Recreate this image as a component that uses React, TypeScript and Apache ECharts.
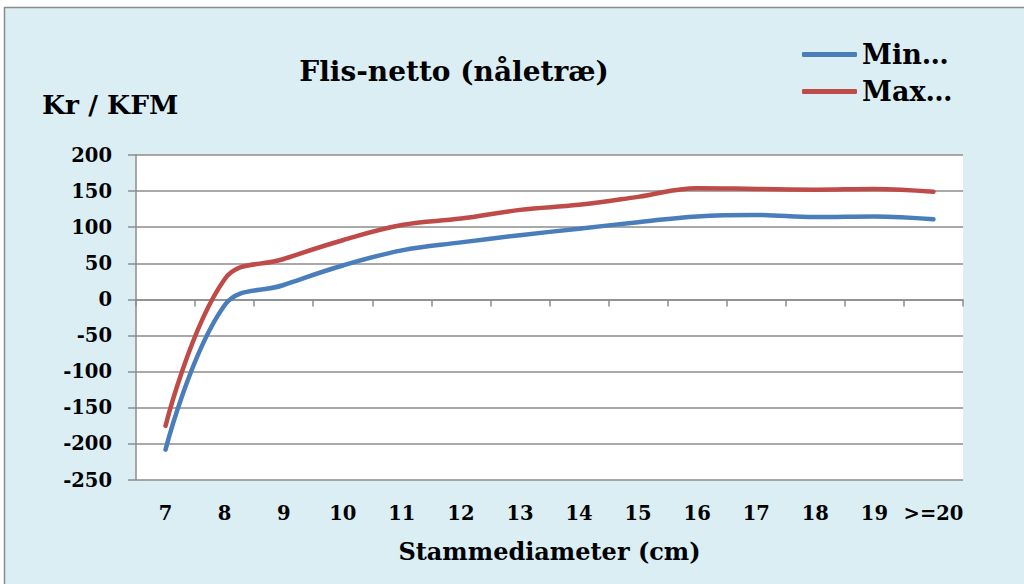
import React, { useEffect, useRef } from "react";
import * as echarts from "echarts";

const categories = ["7", "8", "9", "10", "11", "12", "13", "14", "15", "16", "17", "18", "19", ">=20"];
const minValues = [-208, -8, 20, 47, 68, 79, 89, 98, 107, 115, 117, 114, 115, 111];
const maxValues = [-175, 28, 56, 82, 103, 112, 124, 131, 142, 154, 153, 152, 153, 149];
const yTicks = { min: -250, max: 200, interval: 50 };

const FONT = "DejaVu Serif";

export default function App() {
  const ref = useRef<HTMLDivElement>(null);
  useEffect(() => {
    if (!ref.current) return;
    const chart = echarts.init(ref.current, undefined, { renderer: "svg" });
    chart.setOption({
      animation: false,
      backgroundColor: "#ffffff",
      textStyle: { fontFamily: FONT },
      title: {
        text: "Flis-netto (nåletræ)",
        left: 454,
        top: 57,
        padding: 0,
        textAlign: "center",
        textStyle: { fontFamily: FONT, fontWeight: "bold", fontSize: 28, color: "#000" },
      },
      graphic: [
        {
          type: "rect",
          z: -10,
          silent: true,
          shape: { x: 4.5, y: 7.5, width: 1040, height: 600 },
          style: { fill: "#DBEEF3", stroke: "#8c8c8c", lineWidth: 1.5 },
        },
        {
          type: "text",
          left: 42,
          top: 91,
          style: { text: "Kr / KFM", fontFamily: FONT, fontWeight: "bold", fontSize: 26.5, fill: "#000" },
        },
      ],
      legend: {
        orient: "vertical",
        left: 802,
        top: 41,
        padding: 0,
        itemWidth: 55,
        itemHeight: 5,
        itemGap: 10,
        itemTextGap: 5,
        icon: "roundRect",
        textStyle: { fontFamily: FONT, fontWeight: "bold", fontSize: 27, color: "#000", lineHeight: 27 },
        data: ["Min…", "Max…"],
      },
      grid: {
        left: 136,
        top: 155,
        width: 827,
        height: 325,
        show: true,
        backgroundColor: "#ffffff",
        borderWidth: 0,
        containLabel: false,
      },
      xAxis: [
        {
          type: "category",
          data: categories,
          boundaryGap: true,
          position: "bottom",
          axisLine: { show: false, onZero: false },
          axisTick: { show: false },
          splitLine: { show: false },
          axisLabel: { fontFamily: FONT, fontWeight: "bold", fontSize: 19.5, color: "#000", margin: 23, interval: 0 },
          name: "Stammediameter (cm)",
          nameLocation: "middle",
          nameGap: 59,
          nameTextStyle: { fontFamily: FONT, fontWeight: "bold", fontSize: 24, color: "#000", verticalAlign: "top" },
        },
        {
          type: "category",
          data: categories,
          boundaryGap: true,
          position: "bottom",
          axisLine: { show: true, onZero: true, lineStyle: { color: "#8c8c8c", width: 1.5 } },
          axisTick: { show: true, length: 7, interval: 0, lineStyle: { color: "#8c8c8c", width: 1.5 } },
          axisLabel: { show: false },
          splitLine: { show: false },
        },
      ],
      yAxis: {
        type: "value",
        min: yTicks.min,
        max: yTicks.max,
        interval: yTicks.interval,
        axisLine: { show: true, lineStyle: { color: "#8c8c8c", width: 1.5 } },
        axisTick: { show: true, length: 8, lineStyle: { color: "#8c8c8c", width: 1.5 } },
        splitLine: { show: true, lineStyle: { color: "#8c8c8c", width: 1.5 } },
        axisLabel: { fontFamily: FONT, fontWeight: "bold", fontSize: 19.5, color: "#000", margin: 24 },
      },
      series: [
        {
          name: "Min…",
          type: "line",
          data: minValues,
          smooth: 0.4,
          symbol: "none",
          lineStyle: { color: "#4A7EBB", width: 4.5, cap: "round" },
          itemStyle: { color: "#4A7EBB" },
        },
        {
          name: "Max…",
          type: "line",
          data: maxValues,
          smooth: 0.4,
          symbol: "none",
          lineStyle: { color: "#BE4B48", width: 4.5, cap: "round" },
          itemStyle: { color: "#BE4B48" },
        },
      ],
    });
    return () => chart.dispose();
  }, []);
  return (
    <div
      ref={ref}
      style={{ position: "fixed", left: 0, top: 0, width: 1024, height: 584 }}
    />
  );
}
